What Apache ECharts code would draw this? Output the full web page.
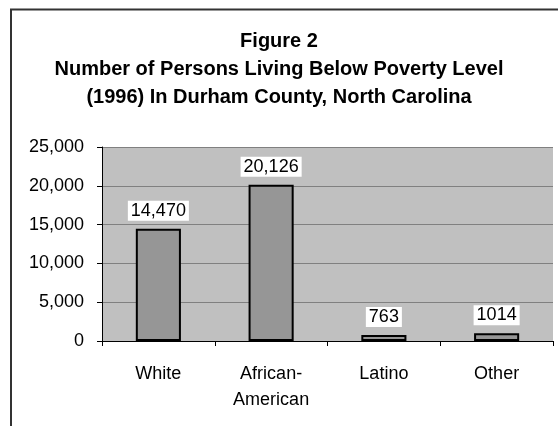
<!DOCTYPE html>
<html>
<head>
<meta charset="utf-8">
<script src="https://cdn.jsdelivr.net/npm/echarts@6/dist/echarts.min.js"></script>
<style>
  html, body { margin: 0; padding: 0; background: #fff; }
  #ec { width: 558px; height: 426px; }
</style>
</head>
<body>
<div id="ec"></div>
<script>
var categories = ['White', 'African-\nAmerican', 'Latino', 'Other']
var persons = [14470, 20126, 763, 1014]
var valueLabels = ['14,470', '20,126', '763', '1014']

var myEchart = echarts.init(document.getElementById('ec'))

myEchart.setOption({
  animation: false,
  textStyle: { fontFamily: 'Liberation Sans, Arial, sans-serif' },
  title: {
    text: 'Figure 2\nNumber of Persons Living Below Poverty Level\n(1996) In Durham County, North Carolina',
    left: 'center',
    top: 22,
    textStyle: {
      fontSize: 20,
      fontWeight: 'bold',
      color: '#000',
      lineHeight: 28,
      fontFamily: 'Liberation Sans, Arial, sans-serif'
    }
  },
  // outer frame, cut off on the right and bottom like the original
  graphic: [{
    type: 'rect',
    z: -10,
    shape: { x: 11, y: 9.5, width: 700, height: 600 },
    style: { fill: 'none', stroke: '#333', lineWidth: 2 }
  }],
  grid: {
    left: 102,
    right: 5,
    top: 147,
    height: 194,
    show: true,
    backgroundColor: '#c0c0c0',
    borderWidth: 0
  },
  xAxis: {
    type: 'category',
    data: categories,
    boundaryGap: true,
    axisLine: { show: true, lineStyle: { color: '#000', width: 1 } },
    axisTick: { show: true, length: 5, lineStyle: { color: '#000' } },
    axisLabel: {
      interval: 0,
      margin: 20,
      fontSize: 18,
      lineHeight: 26,
      color: '#000'
    },
    splitLine: { show: false }
  },
  yAxis: {
    type: 'value',
    min: 0,
    max: 25000,
    interval: 5000,
    axisLine: { show: true, lineStyle: { color: '#000', width: 1 } },
    axisTick: { show: true, length: 5, lineStyle: { color: '#000' } },
    axisLabel: {
      margin: 18,
      fontSize: 18,
      color: '#000',
      padding: [5, 0, 0, 0],
      formatter: function (v) { return v.toLocaleString('en-US') }
    },
    splitLine: { show: true, lineStyle: { color: '#808080', width: 1 } }
  },
  series: [{
    type: 'bar',
    data: persons,
    barWidth: '40%',
    itemStyle: { color: '#969696', borderColor: '#000', borderWidth: 2 },
    label: {
      show: true,
      position: 'top',
      distance: 8,
      fontSize: 18,
      color: '#000',
      backgroundColor: '#fff',
      lineHeight: 18,
      padding: [1, 3],
      formatter: function (p) { return valueLabels[p.dataIndex] }
    }
  }]
})
</script>
</body>
</html>
